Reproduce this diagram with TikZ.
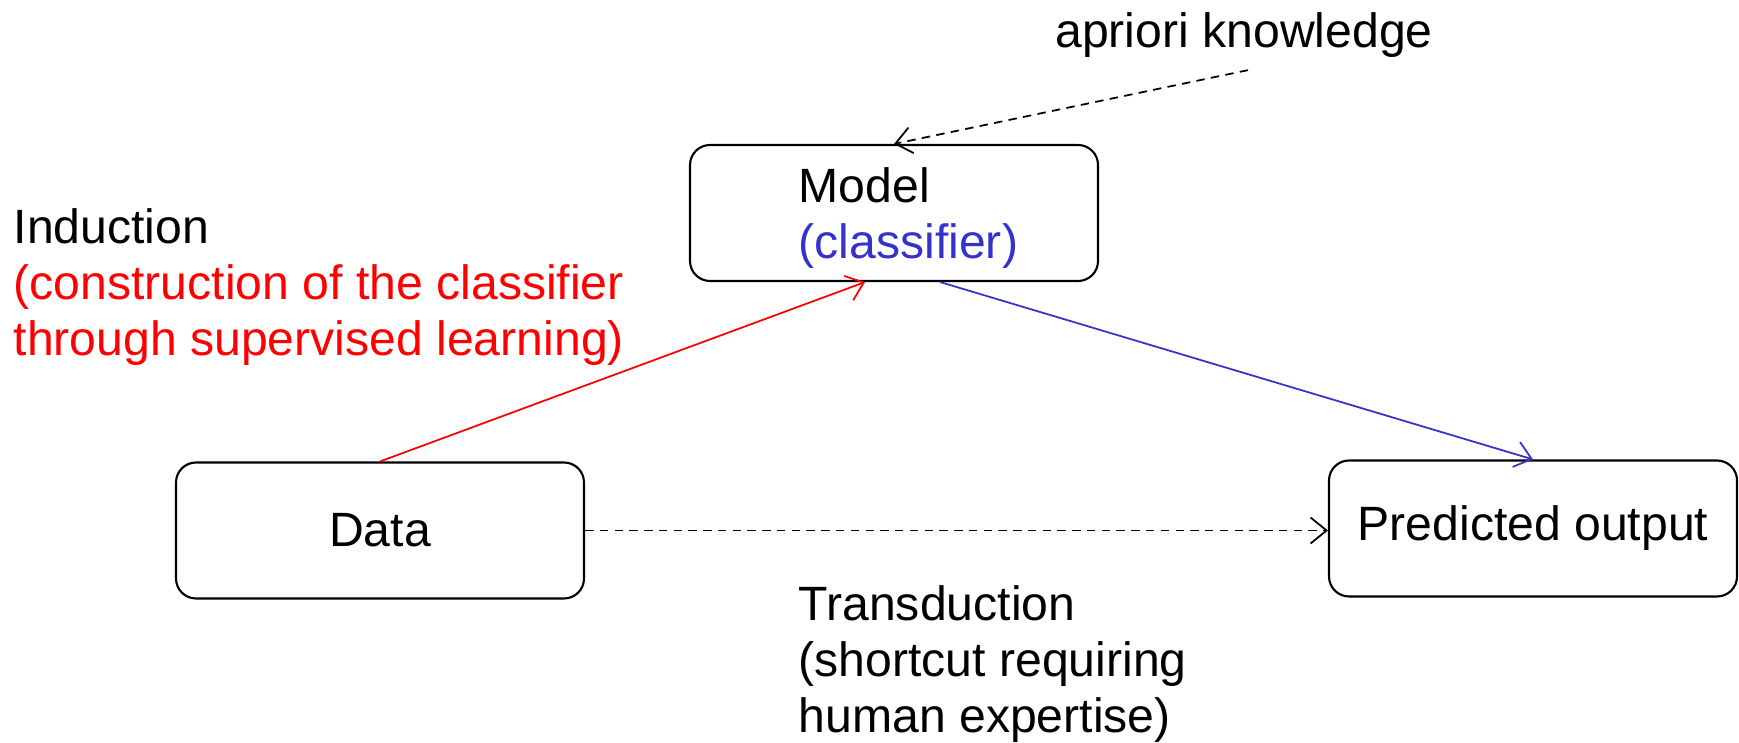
\documentclass[tikz,border=0pt]{standalone}
\usepackage{fontspec}
\setmainfont{Liberation Sans}
\usepackage{xcolor}
\usetikzlibrary{calc, positioning, arrows.meta}
\definecolor{clsblue}{RGB}{51,51,204}
\tikzset{
    learning/.style={
        font=\fontsize{13.7}{16}\selectfont,
        >={Straight Barb[length=1.6mm, width=2.6mm]},
        block/.style={draw, rectangle, rounded corners=0.2cm, minimum width=4.08cm, minimum height=1.36cm, line width=0.6pt, text centered},
        label_text/.style={align=left, inner sep=0pt},
        arrow/.style={line width=0.5pt, ->},
        shortcut/.style={arrow, dash pattern=on 2.4pt off 1.8pt}
    }
}

\begin{document}
\begin{tikzpicture}[learning]
    \useasboundingbox (0,0) rectangle (17.39,7.42);

    % Boxes
    \node[block] (model) at (8.94, 5.29) {};
    \node[block] (data) at (3.80, 2.115) {Data};
    \node[block] (pred) at (15.33, 2.135) {Predicted output};

    % Labels
    \node[label_text, anchor=west] (modeltxt) at (7.98, 5.24) {Model\\\textcolor{clsblue}{(classifier)}};
    \node[label_text] (apriori) at (12.44, 7.07) {apriori knowledge};
    \node[label_text, anchor=west] (induction) at (0.13, 4.55) {Induction\\\textcolor{red}{(construction of the classifier}\\\textcolor{red}{through supervised learning)}};
    \node[label_text, anchor=west] (transduction) at (7.98, 0.78) {Transduction\\(shortcut requiring\\human expertise)};

    % Arrows
    \draw[shortcut] ([shift={(0.04,-0.12)}]apriori.south) -- (model.north);
    \draw[arrow, red] (data.north) -- ([xshift=-0.29cm]model.south);
    \draw[arrow, clsblue] ([xshift=0.46cm]model.south) -- (pred.north);
    \draw[shortcut] (data.east) -- (data.east -| pred.west);
\end{tikzpicture}
\end{document}
